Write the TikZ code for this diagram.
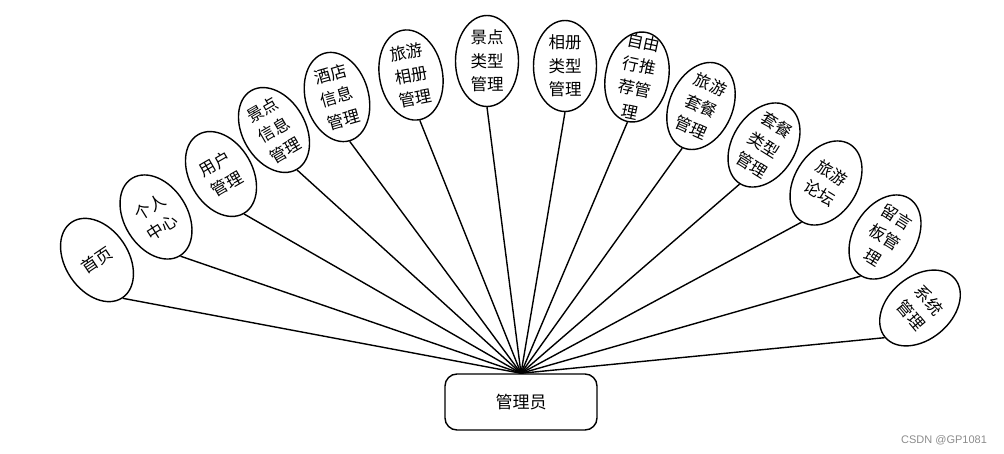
\documentclass[tikz,border=0pt]{standalone}
\usepackage{fontspec}
\setmainfont{Noto Sans CJK SC}
\newfontfamily\markfont{Liberation Sans}
\usepackage{tikz}
\usetikzlibrary{shapes.geometric}

\begin{document}
\begin{tikzpicture}[
    x=1pt, y=-1pt,
    bubble/.style={ellipse, draw, line width=1.4pt, minimum width=63pt, minimum height=91pt, inner sep=0pt, align=center, font=\fontsize{16.5}{23.5}\selectfont},
    admin/.style={rectangle, draw, line width=1.4pt, rounded corners=12pt, minimum width=152pt, minimum height=56pt, font=\fontsize{17}{20}\selectfont},
    link/.style={line width=1.4pt}
]
    \useasboundingbox (0,0) rectangle (1004,454);
    \node[admin] (root) at (521,402) {管理员};
    \node[bubble, rotate=34] (home) at (97,260) {首页};
    \node[bubble, rotate=32] (center) at (156,217) {个人\\中心};
    \node[bubble, rotate=30] (user) at (221,174) {用户\\管理};
    \node[bubble, rotate=30] (spotinfo) at (274,130) {景点\\信息\\管理};
    \node[bubble, rotate=16] (hotel) at (337,97) {酒店\\信息\\管理};
    \node[bubble, rotate=11] (album) at (411,75) {旅游\\相册\\管理};
    \node[bubble] (spottype) at (487,61) {景点\\类型\\管理};
    \node[bubble] (albumtype) at (565,66) {相册\\类型\\管理};
    \node[bubble, rotate=-12, inner ysep=-14pt] (freetour) at (637,77) {自由\\行推\\荐管\\理};
    \node[bubble, rotate=-24] (package) at (701,106) {旅游\\套餐\\管理};
    \node[bubble, rotate=-32] (packtype) at (764,145) {套餐\\类型\\管理};
    \node[bubble, rotate=-32] (forum) at (826,183) {旅游\\论坛};
    \node[bubble, rotate=-32] (board) at (885,237) {留言\\板管\\理};
    \node[bubble, rotate=-50] (system) at (920,308) {系统\\管理};
    \draw[link] (root.north) -- (home.south);
    \draw[link] (root.north) -- (center.south);
    \draw[link] (root.north) -- (user.south);
    \draw[link] (root.north) -- (spotinfo.south);
    \draw[link] (root.north) -- (hotel.south);
    \draw[link] (root.north) -- (album.south);
    \draw[link] (root.north) -- (spottype.south);
    \draw[link] (root.north) -- (albumtype.south);
    \draw[link] (root.north) -- (freetour.south);
    \draw[link] (root.north) -- (package.south);
    \draw[link] (root.north) -- (packtype.south);
    \draw[link] (root.north) -- (forum.south);
    \draw[link] (root.north) -- (board.south);
    \draw[link] (root.north) -- (system.south);
    \node[font=\markfont\fontsize{11}{13}\selectfont, text=black!45] (mark) at (944,440) {CSDN @GP1081};
\end{tikzpicture}
\end{document}
